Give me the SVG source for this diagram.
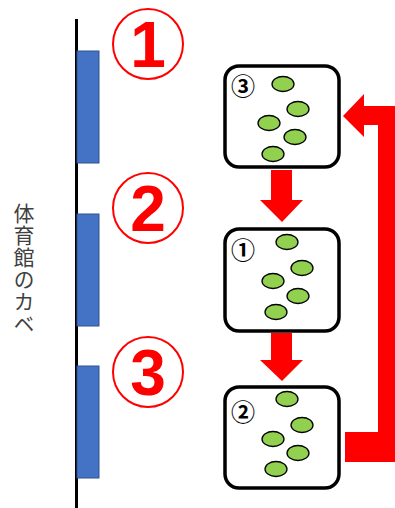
<svg xmlns="http://www.w3.org/2000/svg" width="395" height="508" viewBox="0 0 395 508">
<style>
.wall{stroke:#000;stroke-width:3}
.door{fill:#4472C4;stroke:#2F528F;stroke-width:1}
.ring{fill:none;stroke:#FF0000;stroke-width:2}
.big{font-family:"Liberation Sans",Arial,sans-serif;font-weight:bold;font-size:64px;fill:#FF0000;text-anchor:middle}
.box{fill:#fff;stroke:#000;stroke-width:3.5}
.ball{fill:#92D050;stroke:#000;stroke-width:1.3}
.lbl{font-family:"Noto Sans CJK JP","Liberation Sans",sans-serif;font-weight:bold;font-size:24px;fill:#000;text-anchor:middle}
.red{fill:#FF0000}
.vt{font-family:"Noto Sans CJK JP",sans-serif;font-size:21px;fill:#404040;writing-mode:vertical-rl;letter-spacing:1px}
</style>
<rect width="395" height="508" fill="#fff"/>
<g id="wall">
<line class="wall" x1="76.5" y1="19" x2="76.5" y2="508"/>
<rect class="door" x="77" y="51" width="22" height="112"/>
<rect class="door" x="77" y="214" width="22" height="112"/>
<rect class="door" x="77" y="366" width="22" height="112"/>
<text class="vt" x="24" y="203">体育館のカベ</text>
</g>
<g id="num1"><circle class="ring" cx="148" cy="44" r="35"/><text class="big" x="148" y="67">1</text></g>
<g id="num2"><circle class="ring" cx="148" cy="208" r="35"/><text class="big" x="148" y="231">2</text></g>
<g id="num3"><circle class="ring" cx="148" cy="372" r="35"/><text class="big" x="148" y="395">3</text></g>
<g id="connectors">
<polygon class="red" points="271,170 292,170 292,200 303,200 282,222 260,200 271,200"/>
<polygon class="red" points="271,333 292,333 292,360 303,360 282,381 260,360 271,360"/>
<polygon class="red" points="343,116 364,94 364,106 395,106 395,462 345,462 345,432 378,432 378,125 364,125 364,137"/>
</g>
<g id="box3">
<rect class="box" x="225" y="66" width="114" height="101" rx="14"/>
<text class="lbl" x="243" y="95">③</text>
<ellipse class="ball" cx="283" cy="84" rx="11" ry="7.5"/>
<ellipse class="ball" cx="298" cy="109" rx="11" ry="7.5"/>
<ellipse class="ball" cx="269" cy="123" rx="11" ry="7.5"/>
<ellipse class="ball" cx="295" cy="137" rx="11" ry="7.5"/>
<ellipse class="ball" cx="273" cy="154" rx="11" ry="7.5"/>
</g>
<g id="box1">
<rect class="box" x="225" y="229" width="114" height="102" rx="14"/>
<text class="lbl" x="243" y="259">①</text>
<ellipse class="ball" cx="287" cy="242" rx="11" ry="7.5"/>
<ellipse class="ball" cx="302" cy="268" rx="11" ry="7.5"/>
<ellipse class="ball" cx="273" cy="281" rx="11" ry="7.5"/>
<ellipse class="ball" cx="298" cy="296" rx="11" ry="7.5"/>
<ellipse class="ball" cx="276" cy="312" rx="11" ry="7.5"/>
</g>
<g id="box2">
<rect class="box" x="225" y="387" width="114" height="101" rx="14"/>
<text class="lbl" x="243" y="421">②</text>
<ellipse class="ball" cx="287" cy="399" rx="11" ry="7.5"/>
<ellipse class="ball" cx="302" cy="425" rx="11" ry="7.5"/>
<ellipse class="ball" cx="273" cy="439" rx="11" ry="7.5"/>
<ellipse class="ball" cx="298" cy="453" rx="11" ry="7.5"/>
<ellipse class="ball" cx="276" cy="469" rx="11" ry="7.5"/>
</g>
</svg>
